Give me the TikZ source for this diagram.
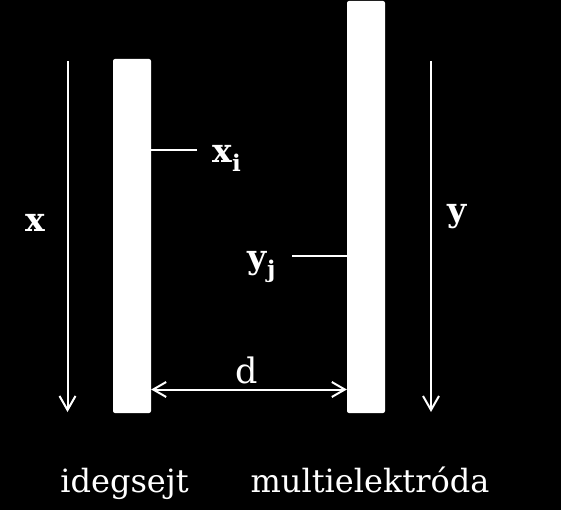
\documentclass[tikz,border=0pt]{standalone}
\usepackage{fontspec}
\setmainfont{DejaVu Serif}
\usetikzlibrary{arrows.meta}
\begin{document}
\begin{tikzpicture}[x=1pt,y=-1pt,
  bar/.style={fill=white,draw=none,rounded corners=2pt,minimum width=38pt,inner sep=0pt},
  lab/.style={text=white,inner sep=0pt,font=\fontsize{33}{36}\selectfont},
  captext/.style={text=white,inner sep=0pt,font=\fontsize{32}{36}\selectfont},
  axis/.style={white,line width=2pt,-{Straight Barb[length=14pt,width=16pt,line width=2pt]}},
  ptr/.style={white,line width=2pt},
  dim/.style={white,line width=2pt,{Straight Barb[length=13pt,width=15pt,line width=2pt]}-{Straight Barb[length=13pt,width=15pt,line width=2pt]}}]
\fill[black] (0,0) rectangle (561,510);
\useasboundingbox (0,0) rectangle (561,510);
% bars
\node[bar,minimum height=354pt] (lbar) at (132,236) {};
\node[bar,minimum height=412pt] (rbar) at (366,207) {};
% axes
\coordinate (xtop) at (67.5,61);
\coordinate (xbot) at (67.5,412);
\coordinate (ytop) at (431,61);
\coordinate (ybot) at (431,412);
\draw[axis] (xtop) -- (xbot);
\draw[axis] (ytop) -- (ybot);
\node[lab,anchor=base] (xl) at (35,232) {\textbf{x}};
\node[lab,anchor=base] (yl) at (457,222) {\textbf{y}};
% pointers
\node[lab,anchor=base west] (xi) at (212,163) {\textbf{x}\raisebox{-0.25em}{\fontsize{23}{24}\selectfont\textbf{i}}};
\node[lab,anchor=base west] (yj) at (247,269) {\textbf{y}\raisebox{-0.25em}{\fontsize{23}{24}\selectfont\textbf{j}}};
\coordinate (xiy) at (0,150);
\coordinate (yjy) at (0,255.5);
\coordinate (xiend) at (197,150);
\coordinate (yjend) at (292,255.5);
\draw[ptr] (xiend) -- (lbar.east |- xiy);
\draw[ptr] (yjend) -- (rbar.west |- yjy);
% distance
\coordinate (dy) at (0,389.5);
\draw[dim] (lbar.east |- dy) -- (rbar.west |- dy);
\node[lab,anchor=base,font=\fontsize{35}{36}\selectfont] (d) at (247,383) {d};
% captions
\node[captext,anchor=base] (c1) at (124.5,492) {idegsejt};
\node[captext,anchor=base] (c2) at (370,492) {multielektróda};
\end{tikzpicture}
\end{document}
